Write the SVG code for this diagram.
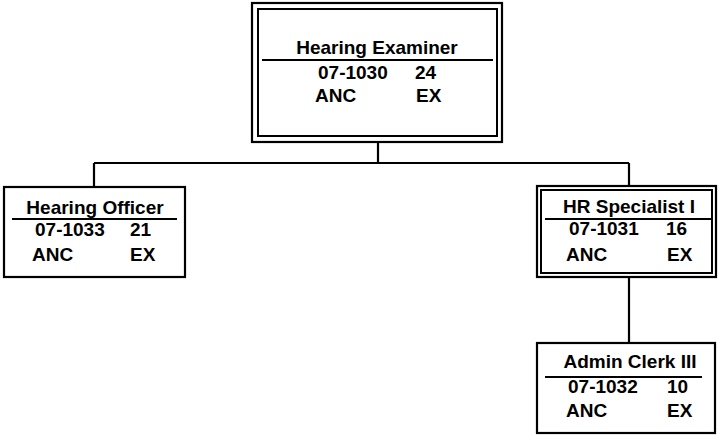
<svg xmlns="http://www.w3.org/2000/svg" width="719" height="436" viewBox="0 0 719 436">
<style>
.box{fill:#fff;stroke:#000;stroke-width:2.2}
.in{fill:none;stroke:#000;stroke-width:2}
.ul{stroke:#000;stroke-width:2.2}
.c{fill:none;stroke:#000;stroke-width:2.2}
text{font-family:"Liberation Sans",Arial,sans-serif;font-size:19px;font-weight:bold;fill:#000}
.m{text-anchor:middle}
</style>
<rect width="719" height="436" fill="#fff"/>
<g id="connectors">
<path class="c" d="M378 142V163M94 163H629M94 163V187M629 163V186M629 277V343"/>
</g>
<g id="hearing-examiner">
<rect class="box" x="252" y="3" width="250" height="139"/>
<rect class="in" x="258" y="9" width="239" height="127"/>
<text class="m" x="377" y="54">Hearing Examiner</text>
<line class="ul" x1="262" y1="60" x2="493" y2="60"/>
<text x="318" y="79">07-1030</text><text x="415" y="79">24</text>
<text x="315" y="102">ANC</text><text x="416" y="102">EX</text>
</g>
<g id="hearing-officer">
<rect class="box" x="4" y="187" width="181" height="90"/>
<text class="m" x="95" y="214">Hearing Officer</text>
<line class="ul" x1="12" y1="219" x2="177" y2="219"/>
<text x="35" y="236">07-1033</text><text x="130" y="236">21</text>
<text x="32" y="261">ANC</text><text x="130" y="261">EX</text>
</g>
<g id="hr-specialist">
<rect class="box" x="537" y="186" width="179" height="91"/>
<rect class="in" x="541" y="190" width="171" height="83"/>
<text class="m" x="629" y="213">HR Specialist I</text>
<line class="ul" x1="545" y1="219" x2="712" y2="219"/>
<text x="569" y="235">07-1031</text><text x="666" y="235">16</text>
<text x="566" y="261">ANC</text><text x="667" y="261">EX</text>
</g>
<g id="admin-clerk">
<rect class="box" x="537" y="343" width="178" height="90"/>
<text class="m" x="630" y="368">Admin Clerk III</text>
<line class="ul" x1="545" y1="377" x2="702" y2="377"/>
<text x="568" y="393">07-1032</text><text x="667" y="393">10</text>
<text x="566" y="417">ANC</text><text x="667" y="417">EX</text>
</g>
</svg>
